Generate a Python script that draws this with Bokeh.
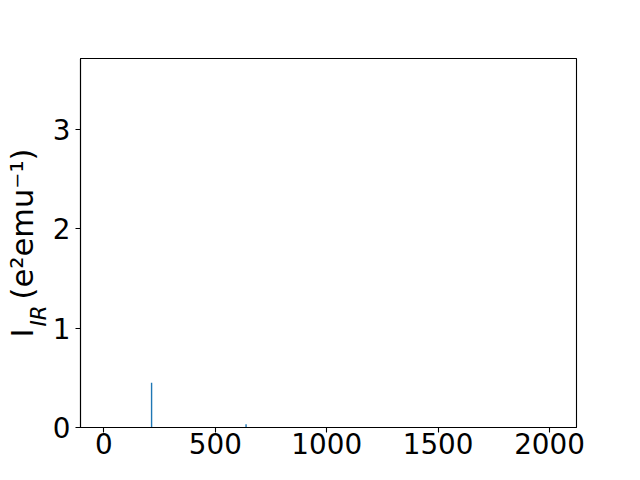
import math
from bokeh.plotting import figure
from bokeh.models import Range1d, FixedTicker, Label
from bokeh.embed import file_html
from bokeh.resources import INLINE

# data
freqs = [214, 638]
intens = [0.45, 0.032]
x_ticks = [0, 500, 1000, 1500, 2000]
y_ticks = [0, 1, 2, 3]
x_label = "Frequency (cm⁻¹)"
y_label_sub = "IR"
y_label = "I\u00a0\u00a0\u00a0(e²emu⁻¹)"

W, H = 624, 464
FL, FR, FT, FB = 80, 576, 58, 427
XR = (-105, 2121)
YR = (0, 3.71)

p = figure(width=W, height=H, output_backend="svg", toolbar_location=None,
           x_range=Range1d(*XR), y_range=Range1d(*YR),
           min_border_left=FL, min_border_right=W - FR,
           min_border_top=FT, min_border_bottom=H - FB)

p.segment(x0=freqs, y0=[0] * len(freqs), x1=freqs, y1=intens,
          line_color="#1f77b4", line_width=1.4)

p.xgrid.visible = False
p.ygrid.visible = False
p.outline_line_color = "black"
p.outline_line_width = 1.1
p.background_fill_color = "white"
p.border_fill_color = "white"

for ax, ticks in ((p.xaxis[0], x_ticks), (p.yaxis[0], y_ticks)):
    ax.ticker = FixedTicker(ticks=ticks)
    ax.minor_tick_line_color = None
    ax.major_tick_in = 0
    ax.major_tick_out = 5
    ax.major_tick_line_width = 1.1
    ax.axis_line_width = 1.1
    ax.axis_line_color = "black"
    ax.major_tick_line_color = "black"
    ax.major_label_text_font = "DejaVu Sans"
    ax.major_label_text_font_size = "27.8px"
    ax.major_label_text_color = "black"
p.xaxis[0].major_label_standoff = 0
p.yaxis[0].major_label_standoff = 5

# y axis title (the subscript is added separately below)
p.yaxis[0].axis_label = y_label
p.yaxis[0].axis_label_text_font = "DejaVu Sans"
p.yaxis[0].axis_label_text_font_size = "30.5px"
p.yaxis[0].axis_label_text_font_style = "normal"
p.yaxis[0].axis_label_text_color = "black"
p.yaxis[0].axis_label_standoff = 10


# picture pixel -> data coordinates (labels live in side panels, so they are not clipped)
def dx(px):
    return XR[0] + (px - FL) / (FR - FL) * (XR[1] - XR[0])


def dy(py):
    return YR[0] + (FB - py) / (FB - FT) * (YR[1] - YR[0])


p.add_layout(Label(x=dx(38), y=dy(326), text=y_label_sub, angle=math.pi / 2,
                   text_font="DejaVu Sans", text_font_size="21.4px",
                   text_font_style="italic", text_color="black",
                   text_align="left", text_baseline="alphabetic"), "right")

p.add_layout(Label(x=dx(328), y=dy(485), text=x_label,
                   text_font="DejaVu Sans", text_font_size="30.5px",
                   text_color="black", text_align="center",
                   text_baseline="alphabetic"), "above")

open("out.html", "w").write(file_html(p, INLINE))
